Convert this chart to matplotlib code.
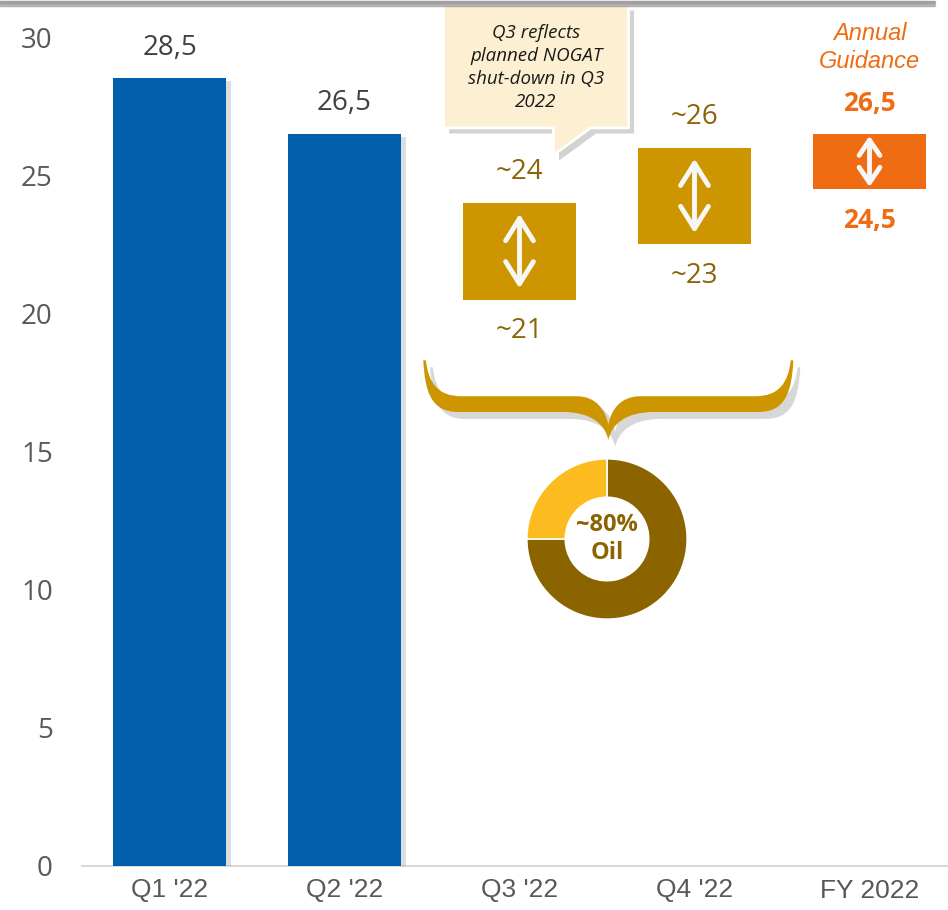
import matplotlib
matplotlib.use("Agg")
import matplotlib.pyplot as plt
import matplotlib.patheffects as pe
from matplotlib.path import Path
from matplotlib.patches import PathPatch, Polygon
from matplotlib.lines import Line2D

# ---- data -----------------------------------------------------------------
categories = ["Q1 '22", "Q2 '22", "Q3 '22", "Q4 '22", "FY 2022"]
actual = [28.5, 26.5]
actual_labels = ["28,5", "26,5"]
range_low = [20.5, 22.5, 24.5]
range_high = [24.0, 26.0, 26.5]
range_low_labels = ["~21", "~23", "24,5"]
range_high_labels = ["~24", "~26", "26,5"]
mix_values = [75, 25]  # oil, gas
mix_label = "~80%\nOil"
callout_text = "Q3 reflects\nplanned NOGAT\nshut-down in Q3\n2022"

# ---- style ----------------------------------------------------------------
BLUE = "#005EAC"
GOLD = "#CD9600"
ORANGE = "#EF6C12"
GOLD_TEXT = "#8B6508"
DARK_OIL = "#8B6400"
LIGHT_GAS = "#FCBB1F"
SANS = ["Open Sans", "DejaVu Sans"]
ARIAL = ["Liberation Sans", "DejaVu Sans"]

shadow = [pe.SimplePatchShadow(offset=(4, -2), shadow_rgbFace="#8f8f8f", alpha=0.3), pe.Normal()]

fig = plt.figure(figsize=(9.48, 9.10), dpi=100)
ax = fig.add_axes([82 / 948, 44 / 910, 866 / 948, 866 / 910])
ax.set_xlim(-0.5, -0.5 + 866 / 175)
ax.set_ylim(0, 31.34)

x = list(range(len(categories)))
width = 0.645

# actual bars
ax.bar(x[:2], actual, width=width, color=BLUE, zorder=3, path_effects=shadow)
for xi, v, lab in zip(x[:2], actual, actual_labels):
    ax.annotate(lab, (xi, v), xytext=(0, 22), textcoords="offset points",
                ha="center", va="center", fontsize=20, color="#404040", family=SANS)

# guidance range boxes
rx = x[2:]
heights = [h - l for l, h in zip(range_low, range_high)]
box_colors = [GOLD, GOLD, ORANGE]
ax.bar(rx, heights, bottom=range_low, width=width, color=box_colors, zorder=3)

for i, (xi, lo, hi) in enumerate(zip(rx, range_low, range_high)):
    is_fy = i == 2
    col = ORANGE if is_fy else GOLD_TEXT
    kw = dict(fontsize=19, fontweight="bold") if is_fy else dict(fontsize=20)
    ax.annotate(range_high_labels[i], (xi, hi), xytext=(0, 22), textcoords="offset points",
                ha="center", va="center", color=col, family=SANS, **kw)
    ax.annotate(range_low_labels[i], (xi, lo), xytext=(0, -23), textcoords="offset points",
                ha="center", va="center", color=col, family=SANS, **kw)
    # double headed arrow inside the box
    shrink = 1.5 if is_fy else 8
    hl, hw = (1.1, 0.75) if is_fy else (1.6, 1.0)
    ax.annotate("", xy=(xi, hi), xytext=(xi, lo), zorder=4,
                arrowprops=dict(arrowstyle=f"<->,head_length={hl},head_width={hw}",
                                color="#F7F7F7", lw=3.5, shrinkA=shrink, shrinkB=shrink))

ax.annotate("Annual\nGuidance", (rx[2], range_high[2]), xytext=(0, 62), textcoords="offset points",
            ha="center", va="center", fontsize=17, style="italic", color=ORANGE,
            family=ARIAL, linespacing=1.25)

# curly brace spanning Q3 and Q4
x0, x1 = rx[0] - 0.55, rx[1] + 0.565
xc = (x0 + x1) / 2
y_top, band_top, band_bot, notch, tip = 18.3, 17.0, 16.43, 15.96, 15.42
verts = [
    (x0, y_top),
    (x0 + 0.01, 17.1), (x0 + 0.05, band_bot), (x0 + 0.2, band_bot),
    (xc - 0.26, band_bot),
    (xc - 0.1, band_bot), (xc - 0.02, 16.0), (xc, tip),
    (xc + 0.02, 16.0), (xc + 0.1, band_bot), (xc + 0.26, band_bot),
    (x1 - 0.2, band_bot),
    (x1 - 0.05, band_bot), (x1 - 0.01, 17.1), (x1, y_top),
    (x1 - 0.015, y_top),
    (x1 - 0.03, 17.5), (x1 - 0.08, band_top), (x1 - 0.22, band_top),
    (xc + 0.18, band_top),
    (xc + 0.07, band_top), (xc + 0.015, 16.5), (xc, notch),
    (xc - 0.015, 16.5), (xc - 0.07, band_top), (xc - 0.18, band_top),
    (x0 + 0.22, band_top),
    (x0 + 0.08, band_top), (x0 + 0.03, 17.5), (x0 + 0.015, y_top),
    (x0, y_top),
]
codes = ([Path.MOVETO] + [Path.CURVE4] * 3 + [Path.LINETO] + [Path.CURVE4] * 6 + [Path.LINETO]
         + [Path.CURVE4] * 3 + [Path.LINETO] + [Path.CURVE4] * 3 + [Path.LINETO]
         + [Path.CURVE4] * 6 + [Path.LINETO] + [Path.CURVE4] * 3 + [Path.CLOSEPOLY])
brace = PathPatch(Path(verts, codes), facecolor=GOLD, edgecolor="none", zorder=3,
                  path_effects=[pe.SimplePatchShadow(offset=(5, -5), shadow_rgbFace="#8f8f8f", alpha=0.35),
                                pe.Normal()])
ax.add_patch(brace)

# callout box
cl, cr, ct, cb = 1.566, 2.623, 31.16, 26.71
tail_l, tail_r, tail_y = 2.194, 2.406, 25.73
callout = Polygon([(cl, ct), (cr, ct), (cr, cb), (tail_r, cb), (tail_l, tail_y), (tail_l, cb), (cl, cb)],
                  closed=True, facecolor="#FDF0D2", edgecolor="white", lw=2, zorder=5, clip_on=False,
                  path_effects=[pe.SimplePatchShadow(offset=(4, -4), shadow_rgbFace="#8f8f8f", alpha=0.4),
                                pe.Normal()])
ax.add_patch(callout)
ax.text((cl + cr) / 2, (ct + cb) / 2 - 0.05, callout_text, ha="center", va="center", fontsize=13.5,
        style="italic", color="#1a1a1a", family=SANS, linespacing=1.35, zorder=6)

# axes styling
ax.set_xticks(x)
ax.set_xticklabels(categories, fontsize=19, color="#595959", family=ARIAL)
ax.set_yticks(range(0, 31, 5))
ax.set_yticklabels([str(v) for v in range(0, 31, 5)], fontsize=20, color="#595959", family=SANS)
ax.tick_params(axis="y", length=0, pad=21)
ax.tick_params(axis="x", length=0, pad=9)
for s in ["top", "right", "left"]:
    ax.spines[s].set_visible(False)
ax.spines["bottom"].set_color("#D9D9D9")
ax.spines["bottom"].set_linewidth(1.5)

# oil / gas donut
pax = fig.add_axes([526 / 948, 290 / 910, 162 / 948, 162 / 910])
pax.pie(mix_values, colors=[DARK_OIL, LIGHT_GAS], startangle=90, counterclock=False,
        wedgeprops=dict(width=0.48, edgecolor="white", linewidth=1.2))
pax.set_xlim(-1.01, 1.01)
pax.set_ylim(-1.01, 1.01)
pax.set_aspect("equal")
pax.text(0, 0, mix_label, ha="center", va="center", fontsize=17, fontweight="bold",
         color=DARK_OIL, family=SANS, linespacing=1.25)

# top rule
fig.add_artist(Line2D([0, 0.985], [0.9975, 0.9975], transform=fig.transFigure, color="#A0A0A0",
                      lw=2.5, solid_capstyle="round",
                      path_effects=[pe.SimpleLineShadow(offset=(0, -2), alpha=0.3), pe.Normal()]))

fig.savefig("out.png", dpi=100)
